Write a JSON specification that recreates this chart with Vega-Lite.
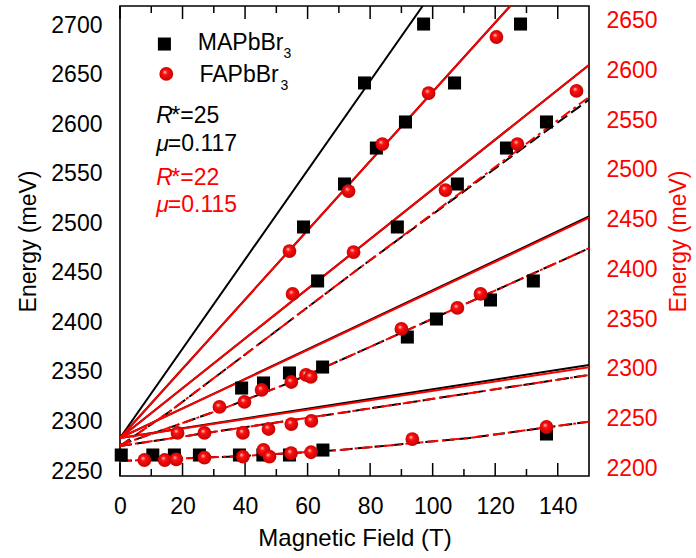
{
  "$schema": "https://vega.github.io/schema/vega-lite/v6.json",
  "width": 469,
  "height": 470,
  "autosize": "none",
  "padding": {"left": 120, "top": 6, "right": 107, "bottom": 82},
  "background": "white",
  "config": {
    "view": {"stroke": "#000", "strokeWidth": 1.6},
    "font": "Liberation Sans",
    "tick": {"thickness": 1.5, "color": "#000", "opacity": 1},
    "axis": {"labelFont": "Liberation Sans", "titleFont": "Liberation Sans", "grid": false, "domain": false, "ticks": false, "labelOverlap": false, "labelFlush": false, "labelBound": false, "labelFontSize": 23, "titleFontSize": 23, "titleFontWeight": "normal", "format": "d"}
  },
  "datasets": {
    "xMajor": [{"B": 0}, {"B": 20}, {"B": 40}, {"B": 60}, {"B": 80}, {"B": 100}, {"B": 120}, {"B": 140}],
    "xMinor": [{"B": 10}, {"B": 30}, {"B": 50}, {"B": 70}, {"B": 90}, {"B": 110}, {"B": 130}],
    "yLMajor": [{"E": 2250}, {"E": 2300}, {"E": 2350}, {"E": 2400}, {"E": 2450}, {"E": 2500}, {"E": 2550}, {"E": 2600}, {"E": 2650}, {"E": 2700}],
    "yLMinor": [{"E": 2275}, {"E": 2325}, {"E": 2375}, {"E": 2425}, {"E": 2475}, {"E": 2525}, {"E": 2575}, {"E": 2625}, {"E": 2675}],
    "yRMajor": [{"E": 2200}, {"E": 2250}, {"E": 2300}, {"E": 2350}, {"E": 2400}, {"E": 2450}, {"E": 2500}, {"E": 2550}, {"E": 2600}, {"E": 2650}],
    "yRMinor": [{"E": 2225}, {"E": 2275}, {"E": 2325}, {"E": 2375}, {"E": 2425}, {"E": 2475}, {"E": 2525}, {"E": 2575}, {"E": 2625}],
    "blackSolid": [
      {"id": "L1", "B": 0, "E": 2283.4}, {"id": "L1", "B": 96.8, "E": 2719.5},
      {"id": "L2", "B": 0, "E": 2283.4}, {"id": "L2", "B": 124.8, "E": 2719.5},
      {"id": "L3", "B": 0, "E": 2283.4}, {"id": "L3", "B": 150, "E": 2659.9},
      {"id": "L4", "B": 0, "E": 2283.4}, {"id": "L4", "B": 150, "E": 2507.0},
      {"id": "L5", "B": 0, "E": 2283.4}, {"id": "L5", "B": 150, "E": 2357.1}
    ],
    "blackDash": [
      {"id": "Da", "B": 0, "E": 2275.3}, {"id": "Da", "B": 15.8, "E": 2309.9}, {"id": "Da", "B": 76.6, "E": 2455.0}, {"id": "Da", "B": 150, "E": 2625.0},
      {"id": "Db", "B": 0, "E": 2276.3}, {"id": "Db", "B": 31.8, "E": 2311.6}, {"id": "Db", "B": 54.8, "E": 2339.9}, {"id": "Db", "B": 76.6, "E": 2370.5}, {"id": "Db", "B": 150, "E": 2474.9},
      {"id": "Dc", "B": 0, "E": 2275.3}, {"id": "Dc", "B": 76.6, "E": 2311.6}, {"id": "Dc", "B": 150, "E": 2347.0},
      {"id": "Dd", "B": 0, "E": 2260.1}, {"id": "Dd", "B": 39.8, "E": 2265.2}, {"id": "Dd", "B": 70.2, "E": 2271.2}, {"id": "Dd", "B": 111.8, "E": 2283.4}, {"id": "Dd", "B": 150, "E": 2299.8}
    ],
    "redSolid": [
      {"id": "R2", "B": 0, "E": 2230.3}, {"id": "R2", "B": 124.8, "E": 2665.0},
      {"id": "R3", "B": 0, "E": 2230.3}, {"id": "R3", "B": 150, "E": 2605.6},
      {"id": "R4", "B": 0, "E": 2230.3}, {"id": "R4", "B": 150, "E": 2451.9},
      {"id": "R5", "B": 0, "E": 2230.3}, {"id": "R5", "B": 150, "E": 2301.4}
    ],
    "redDash": [
      {"id": "Ra", "B": 0, "E": 2222.2}, {"id": "Ra", "B": 15.8, "E": 2256.7}, {"id": "Ra", "B": 76.6, "E": 2401.3}, {"id": "Ra", "B": 150, "E": 2573.4},
      {"id": "Rb", "B": 0, "E": 2223.2}, {"id": "Rb", "B": 31.8, "E": 2258.4}, {"id": "Rb", "B": 54.8, "E": 2286.6}, {"id": "Rb", "B": 76.6, "E": 2317.1}, {"id": "Rb", "B": 150, "E": 2421.2},
      {"id": "Rc", "B": 0, "E": 2222.2}, {"id": "Rc", "B": 76.6, "E": 2258.4}, {"id": "Rc", "B": 150, "E": 2293.7},
      {"id": "Rd", "B": 0, "E": 2207.1}, {"id": "Rd", "B": 39.8, "E": 2212.2}, {"id": "Rd", "B": 70.2, "E": 2218.2}, {"id": "Rd", "B": 111.8, "E": 2230.3}, {"id": "Rd", "B": 150, "E": 2246.7}
    ],
    "ma": [
      {"B": 97.1, "E": 2701.3}, {"B": 128.1, "E": 2701.3}, {"B": 78.2, "E": 2641.8}, {"B": 107.0, "E": 2641.8},
      {"B": 91.3, "E": 2602.4}, {"B": 136.4, "E": 2602.4}, {"B": 82.0, "E": 2576.1}, {"B": 123.6, "E": 2576.1},
      {"B": 71.8, "E": 2539.8}, {"B": 107.9, "E": 2539.8}, {"B": 58.7, "E": 2496.4}, {"B": 88.7, "E": 2496.4},
      {"B": 63.2, "E": 2441.9}, {"B": 91.9, "E": 2385.3}, {"B": 101.2, "E": 2403.5}, {"B": 118.5, "E": 2422.7},
      {"B": 132.2, "E": 2441.9}, {"B": 38.9, "E": 2333.8}, {"B": 45.9, "E": 2338.9}, {"B": 54.2, "E": 2349.0},
      {"B": 64.8, "E": 2355.0}, {"B": 136.4, "E": 2287.4},
      {"B": 0.4, "E": 2266.2}, {"B": 10.5, "E": 2266.2}, {"B": 17.4, "E": 2266.2}, {"B": 25.4, "E": 2266.2},
      {"B": 38.2, "E": 2266.2}, {"B": 45.7, "E": 2266.2}, {"B": 54.2, "E": 2266.2}, {"B": 64.9, "E": 2271.2}
    ],
    "fa": [
      {"B": 120.4, "E": 2633.8}, {"B": 98.7, "E": 2577.4}, {"B": 146.0, "E": 2579.5}, {"B": 83.9, "E": 2526.1},
      {"B": 127.1, "E": 2526.1}, {"B": 73.1, "E": 2478.8}, {"B": 104.1, "E": 2479.8}, {"B": 54.2, "E": 2418.4},
      {"B": 74.7, "E": 2417.4}, {"B": 55.2, "E": 2375.2}, {"B": 90.0, "E": 2340.0}, {"B": 107.9, "E": 2361.1},
      {"B": 115.3, "E": 2375.2}, {"B": 31.8, "E": 2261.5}, {"B": 39.8, "E": 2266.5}, {"B": 45.3, "E": 2278.6},
      {"B": 54.8, "E": 2286.6}, {"B": 59.5, "E": 2293.7}, {"B": 61.0, "E": 2291.7},
      {"B": 18.4, "E": 2235.3}, {"B": 27.0, "E": 2235.3}, {"B": 39.3, "E": 2235.3}, {"B": 47.5, "E": 2239.3},
      {"B": 54.8, "E": 2244.3}, {"B": 61.2, "E": 2247.4}, {"B": 93.5, "E": 2229.2}, {"B": 136.4, "E": 2241.3},
      {"B": 7.8, "E": 2208.1}, {"B": 14.3, "E": 2208.1}, {"B": 18.0, "E": 2208.8}, {"B": 27.0, "E": 2210.4},
      {"B": 39.3, "E": 2211.4}, {"B": 45.9, "E": 2218.2}, {"B": 47.8, "E": 2211.4}, {"B": 54.7, "E": 2214.9},
      {"B": 61.1, "E": 2215.9}
    ],
    "maKey": [{"B": 14.2, "E": 2681.1}],
    "faKey": [{"B": 14.8, "E": 2596.6}],
    "blackText": [
      {"B": 24.9, "E": 2675.1, "t": "MAPbBr"},
      {"B": 16.4, "E": 2601.4, "t": "*=25"},
      {"B": 15.3, "E": 2573.1, "t": "=0.117"}
    ],
    "blackItalic": [
      {"B": 11.6, "E": 2601.4, "t": "R"},
      {"B": 11.6, "E": 2573.1, "t": "μ"}
    ],
    "blackSub": [{"B": 52.3, "E": 2667.0, "t": "3"}],
    "faLabel": [{"B": 25.4, "E": 2588.8, "t": "FAPbBr"}],
    "faSub": [{"B": 51.3, "E": 2580.5, "t": "3"}],
    "redText": [
      {"B": 16.4, "E": 2484.9, "t": "*=22"},
      {"B": 15.3, "E": 2458.0, "t": "=0.115"}
    ],
    "redItalic": [
      {"B": 11.6, "E": 2484.9, "t": "R"},
      {"B": 11.6, "E": 2458.0, "t": "μ"}
    ]
  },
  "encoding": {
    "x": {"field": "B", "type": "quantitative", "scale": {"domain": [0, 150], "nice": false, "zero": false}, "axis": null}
  },
  "layer": [
    {
      "data": {"name": "blackSolid"},
      "mark": {"type": "line", "color": "#000", "strokeWidth": 2, "clip": true},
      "encoding": {
        "x": {"field": "B", "type": "quantitative", "scale": {"domain": [0, 150], "nice": false, "zero": false},
          "axis": {"orient": "bottom", "values": [0, 20, 40, 60, 80, 100, 120, 140],
            "labelPadding": 19, "labelColor": "#000", "title": "Magnetic Field (T)", "titleColor": "#000", "titlePadding": 8, "titleFontSize": 24}},
        "y": {"field": "E", "type": "quantitative", "scale": {"domain": [2245, 2719.5], "nice": false, "zero": false},
          "axis": {"orient": "left", "values": [2250, 2300, 2350, 2400, 2450, 2500, 2550, 2600, 2650, 2700],
            "labelPadding": 18, "labelColor": "#000", "title": "Energy (meV)", "titleColor": "#000", "titlePadding": 10}},
        "detail": {"field": "id"}
      }
    },
    {
      "data": {"name": "blackDash"},
      "mark": {"type": "line", "color": "#000", "strokeWidth": 2, "clip": true, "strokeDash": [12, 5]},
      "encoding": {
        "y": {"field": "E", "type": "quantitative", "scale": {"domain": [2245, 2719.5], "nice": false, "zero": false}, "axis": null},
        "detail": {"field": "id"}
      }
    },
    {
      "data": {"name": "redSolid"},
      "mark": {"type": "line", "color": "#ff0000", "strokeWidth": 2, "clip": true},
      "encoding": {
        "y": {"field": "E", "type": "quantitative", "scale": {"domain": [2192, 2665], "nice": false, "zero": false},
          "axis": {"orient": "right", "values": [2200, 2250, 2300, 2350, 2400, 2450, 2500, 2550, 2600, 2650],
            "labelPadding": 17, "labelColor": "#ff0000", "title": "Energy (meV)", "titleColor": "#ff0000", "titleAngle": 270, "titleBaseline": "top", "titlePadding": 10}},
        "detail": {"field": "id"}
      }
    },
    {
      "data": {"name": "redDash"},
      "mark": {"type": "line", "color": "#ff0000", "strokeWidth": 2, "clip": true, "strokeDash": [11, 4, 3, 4]},
      "encoding": {
        "y": {"field": "E", "type": "quantitative", "scale": {"domain": [2192, 2665], "nice": false, "zero": false}, "axis": null},
        "detail": {"field": "id"}
      }
    },
    {
      "data": {"name": "xMajor"},
      "mark": {"type": "tick", "orient": "vertical", "size": 13},
      "encoding": {"y": {"datum": 2251.56, "type": "quantitative", "scale": {"domain": [2245, 2719.5], "nice": false, "zero": false}, "axis": null}}
    },
    {
      "data": {"name": "xMajor"},
      "mark": {"type": "tick", "orient": "vertical", "size": 13},
      "encoding": {"y": {"datum": 2712.94, "type": "quantitative", "scale": {"domain": [2245, 2719.5], "nice": false, "zero": false}, "axis": null}}
    },
    {
      "data": {"name": "xMinor"},
      "mark": {"type": "tick", "orient": "vertical", "size": 7},
      "encoding": {"y": {"datum": 2248.53, "type": "quantitative", "scale": {"domain": [2245, 2719.5], "nice": false, "zero": false}, "axis": null}}
    },
    {
      "data": {"name": "xMinor"},
      "mark": {"type": "tick", "orient": "vertical", "size": 7},
      "encoding": {"y": {"datum": 2715.97, "type": "quantitative", "scale": {"domain": [2245, 2719.5], "nice": false, "zero": false}, "axis": null}}
    },
    {
      "data": {"name": "yLMajor"},
      "mark": {"type": "tick", "orient": "horizontal", "size": 13},
      "encoding": {
        "x": {"datum": 2.08, "type": "quantitative", "scale": {"domain": [0, 150], "nice": false, "zero": false}, "axis": null},
        "y": {"field": "E", "type": "quantitative", "scale": {"domain": [2245, 2719.5], "nice": false, "zero": false}, "axis": null}}
    },
    {
      "data": {"name": "yLMinor"},
      "mark": {"type": "tick", "orient": "horizontal", "size": 7},
      "encoding": {
        "x": {"datum": 1.12, "type": "quantitative", "scale": {"domain": [0, 150], "nice": false, "zero": false}, "axis": null},
        "y": {"field": "E", "type": "quantitative", "scale": {"domain": [2245, 2719.5], "nice": false, "zero": false}, "axis": null}}
    },
    {
      "data": {"name": "yRMajor"},
      "mark": {"type": "tick", "orient": "horizontal", "size": 13},
      "encoding": {
        "x": {"datum": 147.92, "type": "quantitative", "scale": {"domain": [0, 150], "nice": false, "zero": false}, "axis": null},
        "y": {"field": "E", "type": "quantitative", "scale": {"domain": [2192, 2665], "nice": false, "zero": false}, "axis": null}}
    },
    {
      "data": {"name": "yRMinor"},
      "mark": {"type": "tick", "orient": "horizontal", "size": 7},
      "encoding": {
        "x": {"datum": 148.88, "type": "quantitative", "scale": {"domain": [0, 150], "nice": false, "zero": false}, "axis": null},
        "y": {"field": "E", "type": "quantitative", "scale": {"domain": [2192, 2665], "nice": false, "zero": false}, "axis": null}}
    },
    {
      "data": {"name": "ma"},
      "mark": {"type": "point", "shape": "square", "filled": true, "color": "#000", "size": 170, "opacity": 1},
      "encoding": {"y": {"field": "E", "type": "quantitative", "scale": {"domain": [2245, 2719.5], "nice": false, "zero": false}, "axis": null}}
    },
    {
      "data": {"name": "maKey"},
      "mark": {"type": "point", "shape": "square", "filled": true, "color": "#000", "size": 170, "opacity": 1},
      "encoding": {"y": {"field": "E", "type": "quantitative", "scale": {"domain": [2245, 2719.5], "nice": false, "zero": false}, "axis": null}}
    },
    {
      "data": {"name": "fa"},
      "mark": {"type": "point", "shape": "circle", "filled": true, "size": 190, "opacity": 1,
        "fill": {"gradient": "radial", "x1": 0.38, "y1": 0.35, "r1": 0, "x2": 0.5, "y2": 0.5, "r2": 0.55,
          "stops": [{"offset": 0, "color": "#ffd8d8"}, {"offset": 0.3, "color": "#ff1010"}, {"offset": 1, "color": "#c00000"}]}},
      "encoding": {"y": {"field": "E", "type": "quantitative", "scale": {"domain": [2192, 2665], "nice": false, "zero": false}, "axis": null}}
    },
    {
      "data": {"name": "faKey"},
      "mark": {"type": "point", "shape": "circle", "filled": true, "size": 190, "opacity": 1,
        "fill": {"gradient": "radial", "x1": 0.38, "y1": 0.35, "r1": 0, "x2": 0.5, "y2": 0.5, "r2": 0.55,
          "stops": [{"offset": 0, "color": "#ffd8d8"}, {"offset": 0.3, "color": "#ff1010"}, {"offset": 1, "color": "#c00000"}]}},
      "encoding": {"y": {"field": "E", "type": "quantitative", "scale": {"domain": [2192, 2665], "nice": false, "zero": false}, "axis": null}}
    },
    {
      "data": {"name": "blackText"},
      "mark": {"type": "text", "align": "left", "baseline": "alphabetic", "fontSize": 23, "color": "#000"},
      "encoding": {"text": {"field": "t"}, "y": {"field": "E", "type": "quantitative", "scale": {"domain": [2245, 2719.5], "nice": false, "zero": false}, "axis": null}}
    },
    {
      "data": {"name": "blackItalic"},
      "mark": {"type": "text", "align": "left", "baseline": "alphabetic", "fontSize": 23, "fontStyle": "italic", "color": "#000"},
      "encoding": {"text": {"field": "t"}, "y": {"field": "E", "type": "quantitative", "scale": {"domain": [2245, 2719.5], "nice": false, "zero": false}, "axis": null}}
    },
    {
      "data": {"name": "blackSub"},
      "mark": {"type": "text", "align": "left", "baseline": "alphabetic", "fontSize": 14, "color": "#000"},
      "encoding": {"text": {"field": "t"}, "y": {"field": "E", "type": "quantitative", "scale": {"domain": [2245, 2719.5], "nice": false, "zero": false}, "axis": null}}
    },
    {
      "data": {"name": "faLabel"},
      "mark": {"type": "text", "align": "left", "baseline": "alphabetic", "fontSize": 23, "color": "#000"},
      "encoding": {"text": {"field": "t"}, "y": {"field": "E", "type": "quantitative", "scale": {"domain": [2192, 2665], "nice": false, "zero": false}, "axis": null}}
    },
    {
      "data": {"name": "faSub"},
      "mark": {"type": "text", "align": "left", "baseline": "alphabetic", "fontSize": 14, "color": "#000"},
      "encoding": {"text": {"field": "t"}, "y": {"field": "E", "type": "quantitative", "scale": {"domain": [2192, 2665], "nice": false, "zero": false}, "axis": null}}
    },
    {
      "data": {"name": "redText"},
      "mark": {"type": "text", "align": "left", "baseline": "alphabetic", "fontSize": 23, "color": "#ff0000"},
      "encoding": {"text": {"field": "t"}, "y": {"field": "E", "type": "quantitative", "scale": {"domain": [2192, 2665], "nice": false, "zero": false}, "axis": null}}
    },
    {
      "data": {"name": "redItalic"},
      "mark": {"type": "text", "align": "left", "baseline": "alphabetic", "fontSize": 23, "fontStyle": "italic", "color": "#ff0000"},
      "encoding": {"text": {"field": "t"}, "y": {"field": "E", "type": "quantitative", "scale": {"domain": [2192, 2665], "nice": false, "zero": false}, "axis": null}}
    }
  ],
  "resolve": {"scale": {"x": "independent", "y": "independent"}, "axis": {"x": "independent", "y": "independent"}}
}
